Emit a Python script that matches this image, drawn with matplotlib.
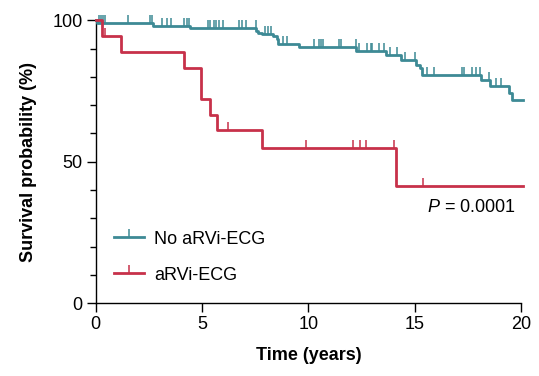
import numpy as np
import matplotlib.pyplot as plt
from matplotlib.lines import Line2D
from matplotlib.ticker import MultipleLocator

plt.rcParams["font.family"] = ["Liberation Sans", "DejaVu Sans"]
plt.rcParams["mathtext.fontset"] = "custom"
plt.rcParams["mathtext.it"] = "Liberation Sans:italic"
plt.rcParams["mathtext.rm"] = "Liberation Sans"

# Kaplan-Meier steps (time in years, survival in %)
no_arvi_t = [0, 0.06, 2.67, 4.43, 7.55, 7.64, 7.80, 8.32, 8.51, 8.58, 9.57,
             12.25, 13.65, 14.38, 15.08, 15.25, 15.36, 18.13, 18.55, 19.44, 19.57, 20.1]
no_arvi_s = [100, 98.9, 98.1, 97.2, 96.3, 95.6, 95.1, 94.5, 93.3, 91.5, 90.7,
             89.0, 87.7, 86.0, 84.2, 83.0, 80.8, 78.9, 76.8, 74.2, 71.7, 71.7]
no_arvi_cens = [0.15, 0.25, 0.35, 0.45, 1.52, 2.53, 2.63, 3.10, 3.35, 3.56, 4.13, 4.28, 4.37,
                5.26, 5.37, 5.56, 5.65, 5.80, 5.98, 6.75, 6.86, 7.07, 7.54,
                7.96, 8.11, 8.24, 8.82, 8.98, 10.28, 10.50, 10.59, 10.68, 11.45, 11.53, 12.24,
                12.39, 12.74, 12.94, 13.00, 13.33, 13.57, 13.84, 14.17, 14.55, 15.01,
                15.60, 15.91, 17.21, 17.33, 17.68, 17.90, 18.07, 18.51, 18.82, 19.05]

arvi_t = [0, 0.28, 1.17, 4.17, 4.97, 5.36, 5.68, 7.84, 14.1, 20.1]
arvi_s = [100, 94.4, 88.9, 83.3, 72.2, 66.7, 61.1, 55.0, 41.3, 41.3]
arvi_cens = [0.44, 6.23, 9.90, 12.10, 12.45, 12.70, 14.05, 15.40]

teal = "#3d8a95"
red = "#c7314a"


def km_value(ts, ss, t):
    idx = np.searchsorted(ts, t, side="right") - 1
    return ss[idx]


fig = plt.figure(figsize=(5.39, 3.76), dpi=100)
ax = fig.add_axes([0.1776, 0.1934, 0.7890, 0.7527])

for ts, ss, cens, col in [(no_arvi_t, no_arvi_s, no_arvi_cens, teal),
                          (arvi_t, arvi_s, arvi_cens, red)]:
    ax.step(ts, ss, where="post", color=col, lw=2.0, clip_on=False, zorder=3)
    cy = [km_value(ts, ss, c) for c in cens]
    ax.plot(cens, cy, ls="none", marker=2, ms=5.5, mew=1.1, color=col, clip_on=False, zorder=3)

ax.set_xlim(0, 20)
ax.set_ylim(0, 100)
ax.xaxis.set_major_locator(MultipleLocator(5))
ax.yaxis.set_major_locator(MultipleLocator(50))
ax.yaxis.set_minor_locator(MultipleLocator(10))
ax.tick_params(which="major", length=6.5, width=1, labelsize=13, pad=3)
ax.tick_params(which="minor", length=4.3, width=1)
ax.spines["top"].set_visible(False)
ax.spines["right"].set_visible(False)
for s in ["left", "bottom"]:
    ax.spines[s].set_linewidth(1)

ax.set_xlabel("Time (years)", fontsize=13, fontweight="bold", labelpad=10)
ax.set_ylabel("Survival probability (%)", fontsize=13, fontweight="bold", labelpad=11)

ax.text(19.76, 32.4, r"$P$ = 0.0001", fontsize=13, ha="right", va="baseline")

handles = [Line2D([], [], color=teal, lw=2.0, marker=2, ms=5.5, mew=1.1),
           Line2D([], [], color=red, lw=2.0, marker=2, ms=5.5, mew=1.1)]
ax.legend(handles, ["No aRVi-ECG", "aRVi-ECG"], loc="lower left",
          bbox_to_anchor=(0.005, 0.012), frameon=False, fontsize=13, numpoints=1,
          handlelength=1.66, handletextpad=0.55, labelspacing=1.05)

fig.savefig("out.png", dpi=100)
